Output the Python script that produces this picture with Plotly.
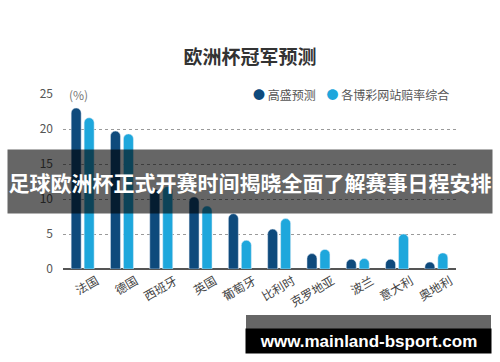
import plotly.graph_objects as go

categories = ["法国", "德国", "西班牙", "英国", "葡萄牙", "比利时", "克罗地亚", "波兰", "意大利", "奥地利"]
goldman = [23.0, 19.7, 11.4, 10.3, 7.9, 5.7, 2.2, 1.4, 1.4, 1.0]
bookmakers = [21.6, 19.3, 11.8, 9.0, 4.1, 7.2, 2.8, 1.5, 5.0, 2.3]
series_names = ["高盛预测", "各博彩网站赔率综合"]
y_ticks = [0, 5, 10, 15, 20, 25]

DARK = "#0e4a7c"
LIGHT = "#1ea7dc"
FONT = "Noto Sans CJK SC"

# pixel geometry of the plot area
L, R, T, B = 63, 456, 94, 269
W, H = 500, 362


def xp(px):
    return (px - L) / (R - L)


def yp(py):
    return (B - py) / (B - T)


fig = go.Figure()
fig.add_trace(go.Bar(x=categories, y=goldman, name=series_names[0],
                     marker=dict(color=DARK, cornerradius=5), showlegend=False))
fig.add_trace(go.Bar(x=categories, y=bookmakers, name=series_names[1],
                     marker=dict(color=LIGHT, cornerradius=5), showlegend=False))

fig.update_layout(
    width=W, height=H,
    margin=dict(l=L, r=W - R, t=T, b=H - B, pad=0),
    paper_bgcolor="white", plot_bgcolor="white",
    barmode="group", bargap=0.34, bargroupgap=0.23,
    font=dict(family=FONT, color="#555"),
    title=dict(text="<b>欧洲杯冠军预测</b>", x=0.5, xanchor="center",
               xref="container", y=1 - 57 / H, yanchor="middle", yref="container",
               font=dict(size=19, color="#333", family=FONT)),
    xaxis=dict(type="category", tickangle=-30, tickfont=dict(size=12, color="#444"),
               showgrid=False, showline=False, ticks="", ticklabelshift=14,
               ticklabelstandoff=2),
    yaxis=dict(range=[0, 25], tickvals=y_ticks, showgrid=True, gridcolor="#9a9a9a",
               griddash="dot", gridwidth=1, zeroline=True, zerolinecolor="#555",
               zerolinewidth=1.5, tickfont=dict(size=12, color="#555"),
               ticks="", ticklabelstandoff=9, showline=False),
)

# (%) unit label
fig.add_annotation(text="(%)", xref="paper", yref="y", x=xp(67), y=25,
                   xanchor="left", yanchor="middle", showarrow=False,
                   font=dict(size=12, color="#777"), bgcolor="white", borderpad=1)

# legend drawn as annotation
legend_text = (f'<span style="color:{DARK}">●</span> {series_names[0]}'
               f'    <span style="color:{LIGHT}">●</span> {series_names[1]}')
fig.add_annotation(text=legend_text, xref="paper", yref="y", x=xp(249), y=25,
                   xanchor="left", yanchor="middle", showarrow=False,
                   font=dict(size=12, color="#555"), bgcolor="white", borderpad=3)

# overlay banner
fig.add_annotation(text="<b>足球欧洲杯正式开赛时间揭晓全面了解赛事日程安排</b>",
                   xref="paper", yref="paper", x=xp(250), y=yp(181.5),
                   xanchor="center", yanchor="middle", showarrow=False,
                   width=484, height=63, bgcolor="rgba(0,0,0,0.6)", borderpad=0,
                   font=dict(size=21, color="white", family=FONT))

# bottom watermark boxes
fig.add_shape(type="rect", xref="paper", yref="paper",
              x0=xp(246), x1=xp(491), y0=yp(329), y1=yp(315),
              fillcolor="rgba(0,0,0,0.6)", line=dict(width=0), layer="above")
fig.add_annotation(text="<b>www.mainland-bsport.com</b>",
                   xref="paper", yref="paper", x=xp(368.5), y=yp(341),
                   xanchor="center", yanchor="middle", showarrow=False,
                   width=245, height=24, bgcolor="black", borderpad=0,
                   font=dict(size=17, color="white", family="Liberation Sans"))

fig.write_html("out.html")
